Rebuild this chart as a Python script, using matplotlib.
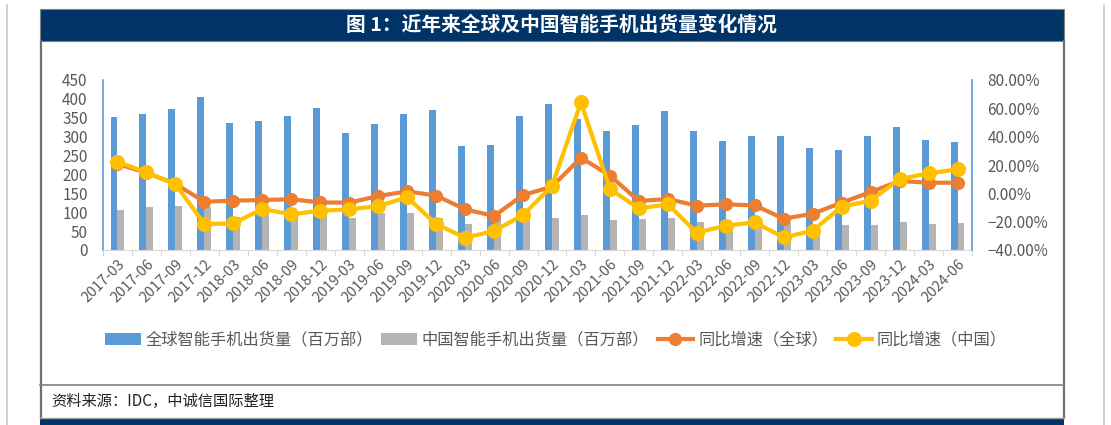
import numpy as np
import matplotlib
matplotlib.use('Agg')
import matplotlib.pyplot as plt
from matplotlib.patches import Rectangle
from matplotlib.lines import Line2D
from matplotlib.ticker import PercentFormatter, FixedLocator

plt.rcParams['font.family'] = ['Noto Sans CJK SC', 'DejaVu Sans']

quarters = ['2017-03', '2017-06', '2017-09', '2017-12', '2018-03', '2018-06', '2018-09', '2018-12',
            '2019-03', '2019-06', '2019-09', '2019-12', '2020-03', '2020-06', '2020-09', '2020-12',
            '2021-03', '2021-06', '2021-09', '2021-12', '2022-03', '2022-06', '2022-09', '2022-12',
            '2023-03', '2023-06', '2023-09', '2023-12', '2024-03', '2024-06']

# shipments, million units
global_ship = [353, 361, 373, 404, 335, 342, 355, 377, 311, 334, 359, 370, 276, 279, 354, 386,
               346, 314, 332, 368, 315, 288, 302, 301, 269, 266, 303, 326, 290, 286]
china_ship = [105, 113, 116, 115, 88, 101, 92, 101, 85, 99, 99, 86, 68, 86, 85, 86,
              93, 79, 82, 85, 74, 67, 70, 72, 67, 66, 67, 74, 70, 71]

# year-on-year growth, %
global_yoy = [20.7, 14.6, 6.6, -5.9, -5.2, -4.7, -4.2, -6.4, -6.6, -1.9, 1.4, -1.6, -11.3, -16.0, -1.2, 4.7,
              25.2, 12.5, -5.4, -4.0, -8.7, -7.8, -8.5, -17.9, -14.4, -6.6, 0.9, 8.7, 7.5, 7.5]
china_yoy = [22.3, 14.8, 6.6, -21.7, -21.2, -11.1, -14.8, -12.3, -11.3, -9.0, -2.8, -21.7, -31.3, -26.6, -15.3, 5.2,
             64.2, 3.0, -10.6, -7.8, -27.8, -22.8, -20.5, -31.1, -26.4, -9.4, -5.2, 10.1, 14.1, 16.9]

labels = ['全球智能手机出货量（百万部）', '中国智能手机出货量（百万部）', '同比增速（全球）', '同比增速（中国）']

W, H = 1111, 425
fig = plt.figure(figsize=(W / 100, H / 100), dpi=100)


def fx(x):
    return x / W


def fy(y):
    return 1 - y / H


# outer frame pieces
navy = '#003466'
fig.add_artist(Line2D([fx(6.5), fx(6.5)], [fy(5), fy(425)], color='#c8c8c8', lw=1.2))
fig.add_artist(Line2D([fx(1104), fx(1104)], [fy(5), fy(425)], color='#c8c8c8', lw=1.2))
fig.add_artist(Rectangle((fx(40), fy(41)), fx(1064) - fx(40), fy(9) - fy(41), facecolor=navy,
                         edgecolor='#808080', lw=0.8))
fig.add_artist(Rectangle((fx(40), fy(425)), fx(1064) - fx(40), fy(418) - fy(425), facecolor=navy,
                         edgecolor='none'))
fig.add_artist(Line2D([fx(40.5), fx(40.5)], [fy(41), fy(418)], color='#6e6e6e', lw=1.6))
fig.add_artist(Line2D([fx(1063.5), fx(1063.5)], [fy(41), fy(418)], color='#6e6e6e', lw=1.6))
fig.add_artist(Line2D([fx(40), fx(1064)], [fy(385), fy(385)], color='#808080', lw=1.2))
fig.add_artist(Line2D([fx(40), fx(1064)], [fy(417.5), fy(417.5)], color='#a0a0a0', lw=1.0))

fig.text(fx(561), fy(25), '图 1：近年来全球及中国智能手机出货量变化情况', color='white',
         fontsize=14.2, fontweight='bold', ha='center', va='center')
fig.text(fx(51), fy(401), '资料来源：IDC，中诚信国际整理', color='#222222', fontsize=11,
         style='italic', ha='left', va='center')

ax = fig.add_axes([fx(103), fy(250), fx(972) - fx(103), fy(80) - fy(250)])
ax2 = ax.twinx()

x = np.arange(len(quarters))
bw = 0.24
b1 = ax.bar(x - bw / 2, global_ship, bw, color='#5b9bd5', label=labels[0], zorder=2)
b2 = ax.bar(x + bw / 2, china_ship, bw, color='#b4b4b4', label=labels[1], zorder=2)
l1, = ax2.plot(x, global_yoy, color='#ed7d31', lw=3, marker='o', ms=8.5, label=labels[2], zorder=3)
l2, = ax2.plot(x, china_yoy, color='#ffc000', lw=3, marker='o', ms=9.8, label=labels[3], zorder=4)

ax.set_xlim(-0.5, len(quarters) - 0.5)
ax.set_ylim(0, 450)
ax.set_yticks(np.arange(0, 451, 50))
ax2.set_ylim(-40, 80)
ax2.set_yticks(np.arange(-40, 81, 20))
ax2.yaxis.set_major_formatter(PercentFormatter(decimals=2))

ax.set_xticks(x)
ax.set_xticklabels(quarters, rotation=45, ha='right', va='top', rotation_mode='anchor')
ax.xaxis.set_minor_locator(FixedLocator(np.arange(-0.5, len(quarters), 1)))
ax.tick_params(axis='x', which='major', length=0, pad=5, labelsize=10.5, labelcolor='#595959')
ax.tick_params(axis='x', which='minor', length=4, width=0.8, color='#d9d9d9', direction='out')
ax.tick_params(axis='y', length=0, pad=11, labelsize=11, labelcolor='#595959')
ax2.tick_params(axis='y', length=0, pad=11, labelsize=11, labelcolor='#595959')

for a in (ax, ax2):
    a.spines['top'].set_visible(False)
ax.spines['right'].set_visible(False)
ax2.spines['left'].set_visible(False)
ax2.spines['bottom'].set_visible(False)
ax.spines['left'].set_color('#5b9bd5')
ax2.spines['right'].set_color('#5b9bd5')
ax.spines['bottom'].set_color('#d9d9d9')
ax.spines['left'].set_linewidth(1.2)
ax2.spines['right'].set_linewidth(1.2)

fig.legend([b1, b2, l1, l2], labels, loc='center', bbox_to_anchor=(fx(556), fy(340)), ncol=4,
           frameon=False, fontsize=11.7, labelcolor='#595959', handlelength=2.2, handletextpad=0.3,
           columnspacing=0.5)

fig.savefig('out.png', dpi=100)
